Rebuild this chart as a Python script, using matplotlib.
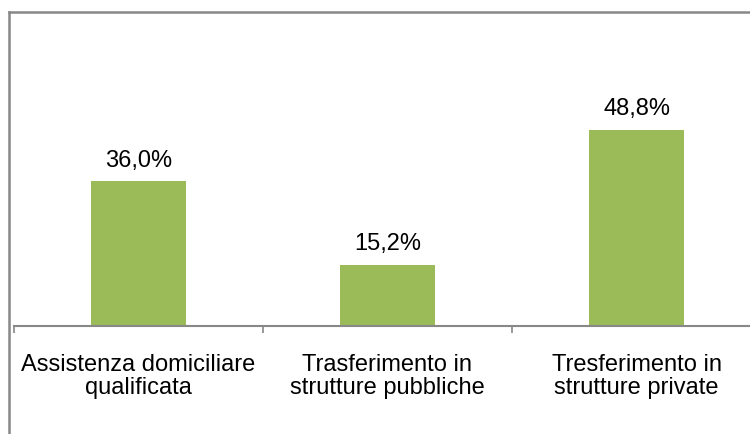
import matplotlib.pyplot as plt
from matplotlib.lines import Line2D

plt.rcParams['font.family'] = ['Liberation Sans', 'DejaVu Sans']

categories = ["Assistenza domiciliare\nqualificata",
              "Trasferimento in\nstrutture pubbliche",
              "Tresferimento in\nstrutture private"]
values = [36.0, 15.2, 48.8]
value_labels = ["36,0%", "15,2%", "48,8%"]

W, H = 750, 434
fig = plt.figure(figsize=(W / 100, H / 100), dpi=100)

# axes placed in pixel units: left 14, right 761 (runs off the edge), baseline 326, top 30
left, right, bottom, top = 14, 761, 326, 30
ax = fig.add_axes([left / W, 1 - bottom / H, (right - left) / W, (bottom - top) / H])
ax.set_xlim(-0.5, 2.5)
ax.set_ylim(0, (bottom - top) / 4.02)

bars = ax.bar(range(len(values)), values, width=0.385, color="#9BBB59")
for b, lab in zip(bars, value_labels):
    ax.text(b.get_x() + b.get_width() / 2, b.get_height() + 2.4, lab,
            ha="center", va="bottom", fontsize=17, color="black")

for s in ["top", "right", "left"]:
    ax.spines[s].set_visible(False)
ax.spines["bottom"].set_color("#888888")
ax.spines["bottom"].set_linewidth(1.5)
ax.set_yticks([])
ax.set_xticks([-0.5, 0.5, 1.5, 2.5])
ax.set_xticklabels([])
ax.tick_params(axis="x", length=5, width=1.2, color="#888888")
for i, c in enumerate(categories):
    ax.text(i, -6.9, c, ha="center", va="top", fontsize=17, linespacing=1.05)

# outer chart frame (top and left edges)
fig.add_artist(Line2D([8.5 / W, 8.5 / W], [0, 1 - 12 / H], color="#888888", lw=1.8))
fig.add_artist(Line2D([8.5 / W, 1], [1 - 12 / H, 1 - 12 / H], color="#888888", lw=1.8))

fig.savefig("out.png", dpi=100)
